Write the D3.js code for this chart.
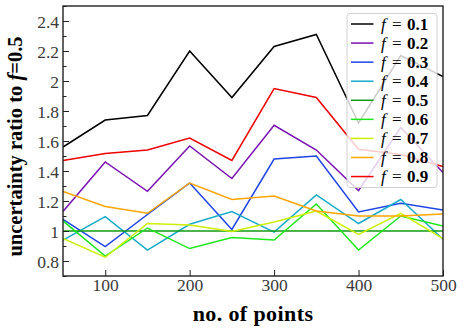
<!DOCTYPE html>
<html>
<head>
<meta charset="utf-8">
<script src="https://cdn.jsdelivr.net/npm/d3@7"></script>
<style>
  body { margin: 0; background: #fff; }
  svg text { font-family: "Liberation Serif", "DejaVu Serif", serif; }
</style>
</head>
<body>
<div id="chart"></div>
<script>
// number of points on the x axis
const points = [50, 100, 150, 200, 250, 300, 350, 400, 450, 500];

// fractions shown in the legend
const fractions = ["0.1", "0.2", "0.3", "0.4", "0.5", "0.6", "0.7", "0.8", "0.9"];

// uncertainty ratio, one array per fraction
const ratio01 = [1.56, 1.74, 1.77, 2.20, 1.89, 2.23, 2.31, 1.72, 2.17, 2.03];
const ratio02 = [1.13, 1.46, 1.265, 1.567, 1.35, 1.705, 1.54, 1.27, 1.69, 1.39];
const ratio03 = [1.078, 0.896, 1.11, 1.32, 1.01, 1.48, 1.50, 1.127, 1.185, 1.14];
const ratio04 = [0.94, 1.096, 0.873, 1.045, 1.13, 0.993, 1.24, 1.05, 1.21, 0.945];
const ratio05 = [1, 1, 1, 1, 1, 1, 1, 1, 1, 1];
const ratio06 = [1.067, 0.833, 1.02, 0.883, 0.956, 0.94, 1.18, 0.873, 1.10, 1.033];
const ratio07 = [0.95, 0.825, 1.05, 1.04, 0.996, 1.06, 1.133, 0.978, 1.118, 0.95];
const ratio08 = [1.263, 1.163, 1.118, 1.32, 1.21, 1.233, 1.133, 1.10, 1.10, 1.113];
const ratio09 = [1.47, 1.516, 1.54, 1.62, 1.47, 1.95, 1.89, 1.545, 1.51, 1.43];

const seriesValues = [ratio01, ratio02, ratio03, ratio04, ratio05, ratio06, ratio07, ratio08, ratio09];
const colors = ["#000000", "#7a12b4", "#1f45e6", "#17aac9", "#119a12", "#1fe61a", "#ccf000", "#ffa500", "#ee0000"];

// tick values and labels
const xTicks = [100, 200, 300, 400, 500];
const yTicks = [0.8, 1.0, 1.2, 1.4, 1.6, 1.8, 2.0, 2.2, 2.4];
const yTickLabels = ["0.8", "1", "1.2", "1.4", "1.6", "1.8", "2", "2.2", "2.4"];
const yMinorTicks = [0.7, 0.9, 1.1, 1.3, 1.5, 1.7, 1.9, 2.1, 2.3, 2.5];

const serif = "'Liberation Serif', 'DejaVu Serif', serif";
const width = 464;
const height = 331;
const margin = { top: 6, right: 21, bottom: 55, left: 63 };

const svg = d3.select("#chart")
    .append("svg")
    .attr("width", width)
    .attr("height", height)
    .attr("font-family", serif);

// scales
const x = d3.scaleLinear().domain([50, 500]).range([margin.left, width - margin.right]);
const y = d3.scaleLinear().domain([0.7, 2.5]).range([height - margin.bottom, margin.top]);

// lines
const line = d3.line()
    .x((d, i) => x(points[i]))
    .y(d => y(d));

const plot = svg.append("g");
plot.append("clipPath").attr("id", "clip")
    .append("rect")
    .attr("x", margin.left).attr("y", margin.top)
    .attr("width", x(500) - x(50)).attr("height", y(0.7) - y(2.5));

plot.selectAll("path.series")
    .data(seriesValues)
    .enter()
    .append("path")
    .attr("class", "series")
    .attr("clip-path", "url(#clip)")
    .attr("d", line)
    .attr("fill", "none")
    .attr("stroke", (d, i) => colors[i])
    .attr("stroke-width", 1.5)
    .attr("stroke-linejoin", "miter");

// axes with inward ticks
const xAxis = d3.axisBottom(x).tickValues(xTicks).tickSize(-6).tickPadding(2).tickFormat(d3.format("d"));
const yAxis = d3.axisLeft(y).tickValues(yTicks).tickSize(-6).tickPadding(4)
    .tickFormat((d, i) => yTickLabels[i]);
const yMinor = d3.axisLeft(y).tickValues(yMinorTicks).tickSize(-3.5).tickFormat("");

const gx = svg.append("g").attr("transform", `translate(0,${y(0.7)})`).call(xAxis);
const gy = svg.append("g").attr("transform", `translate(${x(50)},0)`).call(yAxis);
const gm = svg.append("g").attr("transform", `translate(${x(50)},0)`).call(yMinor);

[gx, gy, gm].forEach(g => {
    g.attr("font-family", serif);
    g.select(".domain").remove();
    g.selectAll("line").attr("stroke", "#222").attr("stroke-width", 1);
    g.selectAll("text").attr("font-size", "17.5px").attr("fill", "#3a3a3a");
});
gy.selectAll("text").attr("dy", "0.35em");
gx.selectAll("text").attr("dy", "0.75em");

// frame
svg.append("rect")
    .attr("x", x(50)).attr("y", y(2.5))
    .attr("width", x(500) - x(50)).attr("height", y(0.7) - y(2.5))
    .attr("fill", "none")
    .attr("stroke", "#222")
    .attr("stroke-width", 1.4);

// axis labels
svg.append("text")
    .attr("x", (x(50) + x(500)) / 2)
    .attr("y", 321)
    .attr("text-anchor", "middle")
    .attr("font-size", "22px")
    .attr("font-weight", "bold")
    .attr("letter-spacing", "0.4px")
    .text("no. of points");

const ylab = svg.append("text")
    .attr("transform", `translate(22,${(y(0.7) + 17) / 2}) rotate(-90)`)
    .attr("text-anchor", "middle")
    .attr("font-size", "20.5px")
    .attr("font-weight", "bold");
ylab.append("tspan").text("uncertainty ratio to ");
ylab.append("tspan").attr("font-style", "italic").text("f");
ylab.append("tspan").text("=0.5");

// legend
const legend = svg.append("g");
legend.append("rect")
    .attr("x", 347).attr("y", 13.5)
    .attr("width", 90).attr("height", 174)
    .attr("rx", 3)
    .attr("fill", "#fff").attr("fill-opacity", 0.8)
    .attr("stroke", "#d0d0d0").attr("stroke-width", 1);

const rows = legend.selectAll("g.row")
    .data(fractions)
    .enter()
    .append("g")
    .attr("class", "row")
    .attr("transform", (d, i) => `translate(0,${24 + i * 19.07})`);

rows.append("line")
    .attr("x1", 351).attr("x2", 373.5)
    .attr("stroke", (d, i) => colors[i])
    .attr("stroke-width", 1.5);

const labels = rows.append("text")
    .attr("x", 381)
    .attr("y", 5.5)
    .attr("font-size", "17px");
labels.append("tspan").attr("font-style", "italic").text("f");
labels.append("tspan").attr("x", 392).text("=");
labels.append("tspan").attr("x", 407).attr("font-weight", "bold").text(d => d);
</script>
</body>
</html>
